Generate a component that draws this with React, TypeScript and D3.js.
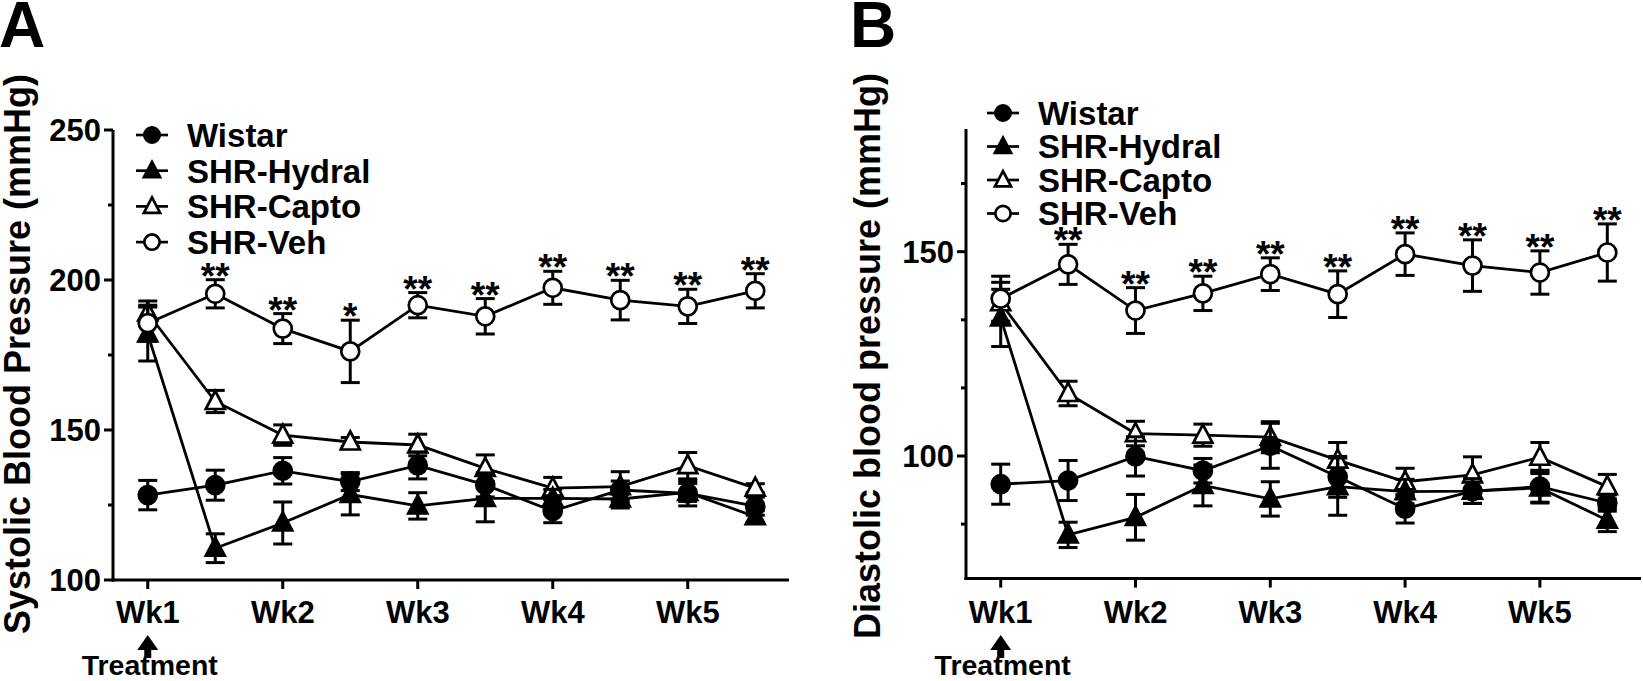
import React from 'react';
import * as d3 from 'd3';

// ---------- data ----------
const weeks = [1, 1.5, 2, 2.5, 3, 3.5, 4, 4.5, 5, 5.5];
const weekTicks = [1, 2, 3, 4, 5];
const weekLabels = ['Wk1', 'Wk2', 'Wk3', 'Wk4', 'Wk5'];
const seriesNames = ['Wistar', 'SHR-Hydral', 'SHR-Capto', 'SHR-Veh'];

// Panel A: systolic
const sysWistar = [128.3, 131.6, 136.4, 132.8, 138.2, 131.7, 123.0, 130.0, 128.9, 124.6];
const sysWistarErr = [4.9, 5.0, 4.4, 3.0, 4.5, 4.0, 3.9, 3.0, 4.2, 3.0];
const sysHydral = [182.0, 110.6, 119.0, 128.5, 124.7, 127.2, 127.2, 127.0, 129.2, 121.1];
const sysHydralErr = [9.0, 4.8, 7.0, 6.8, 4.4, 7.8, 3.0, 3.0, 3.0, 2.0];
const sysCapto = [189.0, 159.5, 148.3, 146.0, 145.0, 137.2, 130.6, 131.1, 138.1, 130.6];
const sysCaptoErr = [4.0, 3.7, 3.4, 1.5, 3.6, 4.5, 3.6, 5.0, 4.4, 1.5];
const sysVeh = [185.6, 195.4, 183.8, 176.2, 191.6, 187.9, 197.4, 193.3, 191.2, 196.4];
const sysVehErr = [6.0, 4.7, 5.0, 10.4, 4.2, 5.9, 5.5, 6.6, 5.7, 5.7];
const sysStars = ['', '**', '**', '*', '**', '**', '**', '**', '**', '**'];
const sysMajorTicks = [100, 150, 200, 250];
const sysMinorTicks = [125, 175, 225];
const sysDomain = [100, 250];

// Panel B: diastolic
const diaWistar = [93.1, 94.0, 99.9, 96.4, 102.5, 94.9, 87.1, 91.4, 92.5, 88.5];
const diaWistarErr = [4.9, 4.9, 4.8, 3.0, 5.5, 5.0, 3.5, 3.0, 4.0, 2.0];
const diaHydral = [133.8, 80.7, 85.0, 92.8, 89.5, 92.5, 91.3, 91.4, 92.2, 84.3];
const diaHydralErr = [7.0, 3.1, 5.6, 5.0, 4.2, 7.0, 3.0, 3.0, 3.5, 2.8];
const diaCapto = [137.5, 115.3, 105.5, 105.1, 104.6, 99.0, 93.7, 95.4, 99.7, 92.5];
const diaCaptoErr = [5.0, 3.0, 3.0, 2.7, 3.8, 4.3, 3.3, 4.4, 3.6, 3.0];
const diaVeh = [138.5, 146.9, 135.6, 139.8, 144.5, 139.6, 149.4, 146.6, 144.9, 149.8];
const diaVehErr = [5.5, 4.9, 5.6, 4.2, 4.0, 5.7, 5.2, 6.3, 5.3, 7.0];
const diaStars = ['', '**', '**', '**', '**', '**', '**', '**', '**', '**'];
const diaMajorTicks = [100, 150];
const diaMinorTicks = [83.33, 116.67, 133.33, 166.67];
const diaDomain = [70, 180];

// ---------- drawing ----------
const FONT = '"Liberation Sans", Arial, Helvetica, sans-serif';

type Sym = 'circle' | 'triangle';
interface Series {
  name: string;
  values: number[];
  errors: number[];
  symbol: Sym;
  filled: boolean;
}

function Marker({ cx, cy, symbol, filled, s }: { cx: number; cy: number; symbol: Sym; filled: boolean; s: number }) {
  const fill = filled ? '#000' : '#fff';
  if (symbol === 'circle') {
    return <circle cx={cx} cy={cy} r={9 * s} fill={fill} stroke="#000" strokeWidth={2.7} />;
  }
  const pts = `${cx},${cy - 10.5 * s} ${cx + 9.5 * s},${cy + 7.5 * s} ${cx - 9.5 * s},${cy + 7.5 * s}`;
  return <polygon points={pts} fill={fill} stroke="#000" strokeWidth={2.7} strokeLinejoin="miter" />;
}

interface PanelProps {
  letter: string;
  letterX: number;
  title: string;
  titleX: number;
  titleY: number;
  domain: number[];
  majorTicks: number[];
  minorTicks: number[];
  series: Series[]; // legend order
  drawOrder: number[];
  stars: string[];
  starsSeries: number;
  xRange: [number, number];
  yRange: [number, number];
  legendX: number;
  legendY: number;
  legendStep: number;
}

function Panel(p: PanelProps) {
  const x = d3.scaleLinear().domain([0.75, 5.75]).range(p.xRange);
  const y = d3.scaleLinear().domain(p.domain).range(p.yRange);
  const axisX = p.xRange[0] - 1;
  const axisY = p.yRange[0];
  const line = d3
    .line<number>()
    .x((_, i) => x(weeks[i]))
    .y((d) => y(d));
  const starSer = p.series[p.starsSeries];
  const wk1 = x(1);

  return (
    <g>
      <text x={p.letterX} y={47} fontSize={64} fontWeight="bold" fontFamily={FONT}>
        {p.letter}
      </text>
      <text
        transform={`translate(${p.titleX},${p.titleY}) rotate(-90)`}
        textAnchor="middle"
        fontSize={36}
        fontWeight="bold"
        fontFamily={FONT}
      >
        {p.title}
      </text>

      {/* axes */}
      <line x1={axisX} x2={axisX} y1={y(p.domain[1])} y2={axisY + 1.5} stroke="#000" strokeWidth={3} />
      <line x1={axisX - 1.5} x2={p.xRange[1]} y1={axisY} y2={axisY} stroke="#000" strokeWidth={3} />
      {p.majorTicks.map((t) => (
        <g key={'mj' + t}>
          <line x1={axisX - 9} x2={axisX} y1={y(t)} y2={y(t)} stroke="#000" strokeWidth={3} />
          <text
            x={axisX - 12}
            y={y(t)}
            dy="0.36em"
            textAnchor="end"
            fontSize={31}
            fontWeight="bold"
            fontFamily={FONT}
          >
            {t}
          </text>
        </g>
      ))}
      {p.minorTicks.map((t) => (
        <line key={'mn' + t} x1={axisX - 5} x2={axisX} y1={y(t)} y2={y(t)} stroke="#000" strokeWidth={3} />
      ))}
      {weekTicks.map((w, i) => (
        <g key={'wk' + w}>
          <line x1={x(w)} x2={x(w)} y1={axisY} y2={axisY + 9} stroke="#000" strokeWidth={3} />
          <text x={x(w)} y={623} textAnchor="middle" fontSize={31} fontWeight="bold" fontFamily={FONT}>
            {weekLabels[i]}
          </text>
        </g>
      ))}

      {/* treatment arrow */}
      <polygon points={`${wk1},635 ${wk1 + 10.5},650 ${wk1 - 10.5},650`} fill="#000" />
      <rect x={wk1 - 3.5} y={648} width={7} height={10} fill="#000" />
      <text x={wk1 + 2} y={675} textAnchor="middle" fontSize={28.5} fontWeight="bold" fontFamily={FONT}>
        Treatment
      </text>

      {/* series */}
      {p.drawOrder.map((si) => {
        const s = p.series[si];
        return (
          <g key={s.name}>
            <path d={line(s.values) || ''} fill="none" stroke="#000" strokeWidth={2.8} />
            {s.values.map((v, i) => {
              const cx = x(weeks[i]);
              const yt = y(v + s.errors[i]);
              const yb = y(v - s.errors[i]);
              return (
                <g key={i}>
                  <line x1={cx} x2={cx} y1={yt} y2={yb} stroke="#000" strokeWidth={3} />
                  <line x1={cx - 9.5} x2={cx + 9.5} y1={yt} y2={yt} stroke="#000" strokeWidth={3} />
                  <line x1={cx - 9.5} x2={cx + 9.5} y1={yb} y2={yb} stroke="#000" strokeWidth={3} />
                </g>
              );
            })}
            {s.values.map((v, i) => (
              <Marker key={'m' + i} cx={x(weeks[i])} cy={y(v)} symbol={s.symbol} filled={s.filled} s={1} />
            ))}
          </g>
        );
      })}

      {/* significance stars */}
      {p.stars.map((st, i) =>
        st ? (
          <text
            key={'st' + i}
            x={x(weeks[i])}
            y={y(starSer.values[i] + starSer.errors[i]) + 9}
            textAnchor="middle"
            fontSize={37}
            fontWeight="bold"
            fontFamily={FONT}
          >
            {st}
          </text>
        ) : null
      )}

      {/* legend */}
      {p.series.map((s, i) => {
        const ly = p.legendY + i * p.legendStep;
        return (
          <g key={'lg' + s.name}>
            <line x1={p.legendX - 16} x2={p.legendX + 16} y1={ly} y2={ly} stroke="#000" strokeWidth={2.7} />
            <Marker cx={p.legendX} cy={ly} symbol={s.symbol} filled={s.filled} s={0.85} />
            <text
              x={p.legendX + 35}
              y={ly}
              dy="0.36em"
              fontSize={33}
              fontWeight="bold"
              fontFamily={FONT}
            >
              {s.name}
            </text>
          </g>
        );
      })}
    </g>
  );
}

export default function App() {
  const sysSeries: Series[] = [
    { name: seriesNames[0], values: sysWistar, errors: sysWistarErr, symbol: 'circle', filled: true },
    { name: seriesNames[1], values: sysHydral, errors: sysHydralErr, symbol: 'triangle', filled: true },
    { name: seriesNames[2], values: sysCapto, errors: sysCaptoErr, symbol: 'triangle', filled: false },
    { name: seriesNames[3], values: sysVeh, errors: sysVehErr, symbol: 'circle', filled: false },
  ];
  const diaSeries: Series[] = [
    { name: seriesNames[0], values: diaWistar, errors: diaWistarErr, symbol: 'circle', filled: true },
    { name: seriesNames[1], values: diaHydral, errors: diaHydralErr, symbol: 'triangle', filled: true },
    { name: seriesNames[2], values: diaCapto, errors: diaCaptoErr, symbol: 'triangle', filled: false },
    { name: seriesNames[3], values: diaVeh, errors: diaVehErr, symbol: 'circle', filled: false },
  ];
  return (
    <svg
      width={1643}
      height={681}
      style={{ position: 'absolute', left: 0, top: 0, display: 'block', background: '#fff' }}
    >
      <rect x={0} y={0} width={1643} height={681} fill="#fff" />
      <Panel
        letter="A"
        letterX={-1}
        title="Systolic Blood Pressure (mmHg)"
        titleX={30}
        titleY={354}
        domain={sysDomain}
        majorTicks={sysMajorTicks}
        minorTicks={sysMinorTicks}
        series={sysSeries}
        drawOrder={[2, 1, 0, 3]}
        stars={sysStars}
        starsSeries={3}
        xRange={[114, 789]}
        yRange={[580, 130]}
        legendX={152}
        legendY={135}
        legendStep={35.7}
      />
      <Panel
        letter="B"
        letterX={850}
        title="Diastolic blood pressure (mmHg)"
        titleX={880}
        titleY={356}
        domain={diaDomain}
        majorTicks={diaMajorTicks}
        minorTicks={diaMinorTicks}
        series={diaSeries}
        drawOrder={[2, 1, 0, 3]}
        stars={diaStars}
        starsSeries={3}
        xRange={[967, 1641]}
        yRange={[578.6, 129.1]}
        legendX={1003}
        legendY={113}
        legendStep={33.5}
      />
    </svg>
  );
}
